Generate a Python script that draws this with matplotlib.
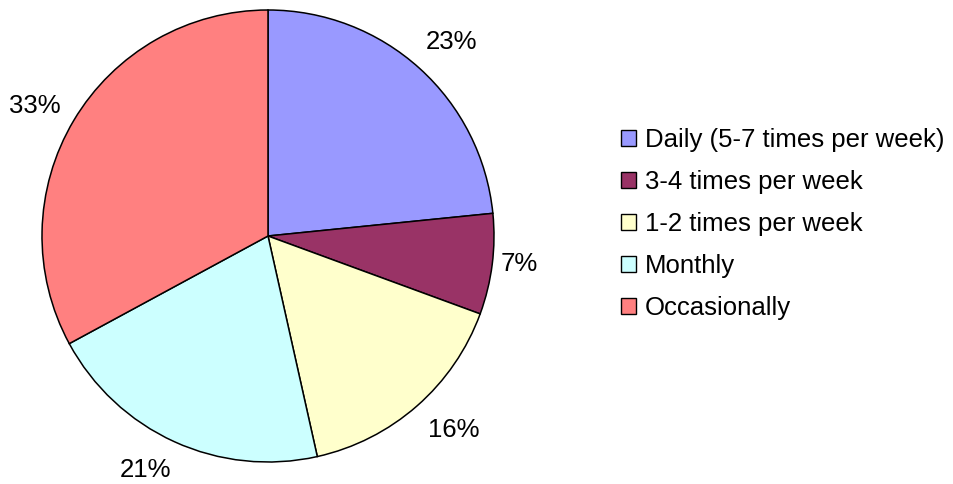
import matplotlib
matplotlib.use("Agg")
import matplotlib.pyplot as plt
import matplotlib.transforms as mtransforms
from matplotlib.patches import Patch
import numpy as np

plt.rcParams['font.family'] = ['Liberation Sans', 'DejaVu Sans']

categories = ["Daily (5-7 times per week)", "3-4 times per week", "1-2 times per week",
              "Monthly", "Occasionally"]
values = [23.4, 7.2, 15.9, 20.6, 32.9]
colors = ["#9999FF", "#993366", "#FFFFCC", "#CCFFFF", "#FF8080"]
label_radii = [1.189, 1.118, 1.183, 1.160, 1.185]
label_shift_deg = [-1.0, 1.2, 2.9, -3.5, 1.3]

W, H = 954, 484
fig = plt.figure(figsize=(W / 100, H / 100), dpi=100)
cx, cy, R = 268, 236, 226
ax = fig.add_axes([(cx - R) / W, (H - cy - R) / H, 2 * R / W, 2 * R / H])

wedges, texts = ax.pie(values, colors=colors, startangle=90, counterclock=False,
                       radius=1.0, wedgeprops=dict(edgecolor="black", linewidth=1.1))
ax.set_xlim(-1, 1)
ax.set_ylim(-1, 1)
ax.set_aspect("equal")
ax.axis("off")

fs = 18.5
total = sum(values)
trans = mtransforms.offset_copy(ax.transData, fig=fig, y=-2, units="dots")
for w, v, r, s in zip(wedges, values, label_radii, label_shift_deg):
    ang = np.deg2rad((w.theta1 + w.theta2) / 2 + s)
    ax.text(r * np.cos(ang), r * np.sin(ang), f"{round(100 * v / total):.0f}%",
            ha="center", va="center", fontsize=fs, color="black", clip_on=False,
            transform=trans)

handles = [Patch(facecolor=c, edgecolor="black", linewidth=1.0) for c in colors]
fig.legend(handles, categories, loc="upper left",
           bbox_to_anchor=(621 / W, (H - 128) / H), frameon=False, fontsize=fs,
           handlelength=0.58, handleheight=0.58, handletextpad=0.35,
           labelspacing=0.70, borderpad=0, borderaxespad=0)

fig.savefig("out.png", dpi=100)
